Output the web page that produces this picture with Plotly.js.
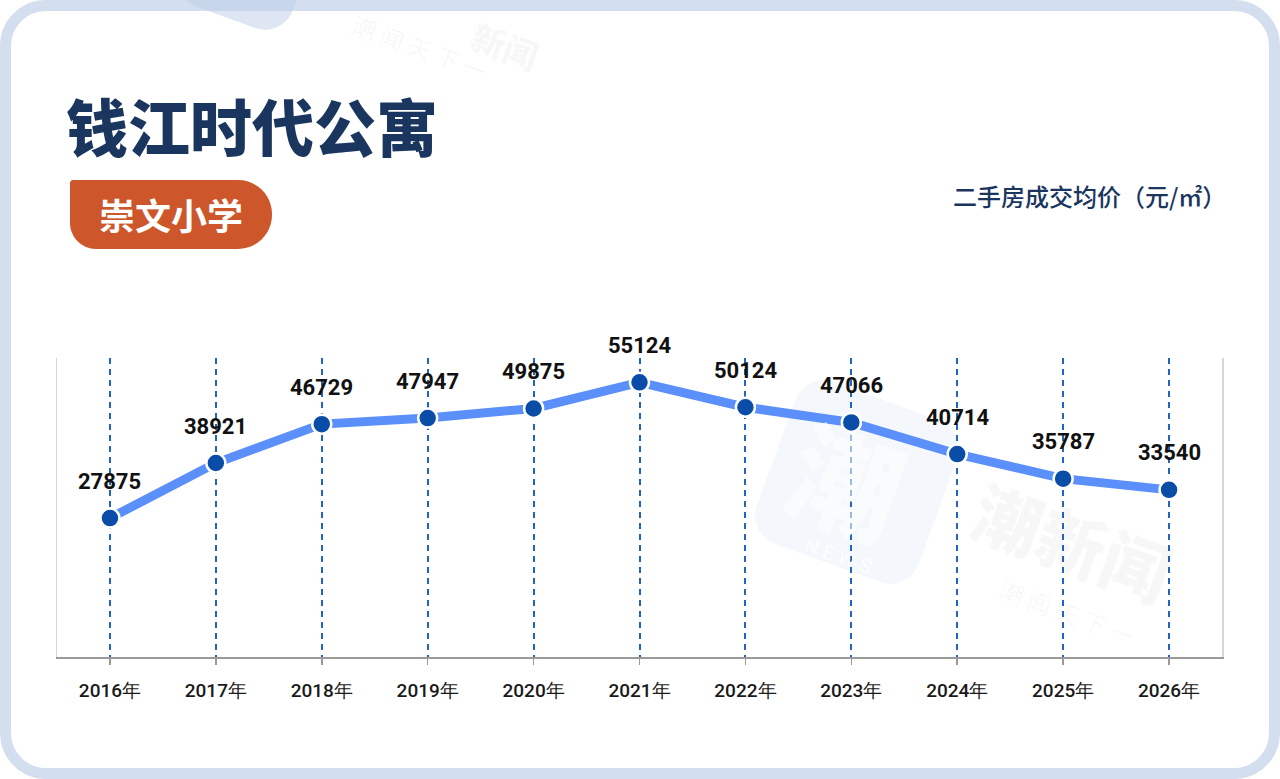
<!DOCTYPE html>
<html>
<head>
<meta charset="utf-8">
<script src="https://cdn.plot.ly/plotly-3.0.1.min.js"></script>
<style>
  html, body { margin: 0; padding: 0; background: #ffffff; }
  #wrap { position: relative; width: 1280px; height: 779px; overflow: hidden; }
  #card { position: absolute; left: 0; top: 0; width: 1280px; height: 779px; box-sizing: border-box;
          border: 11px solid #d3deee; border-radius: 46px; background: #ffffff; }
  #chart { position: absolute; left: 0; top: 0; width: 1280px; height: 779px; }
</style>
</head>
<body>
<div id="wrap">
  <div id="card"></div>
  <div id="chart"></div>
</div>
<script>
// ---- data ----
const years = ['2016年','2017年','2018年','2019年','2020年','2021年','2022年','2023年','2024年','2025年','2026年'];
const prices = [27875, 38921, 46729, 47947, 49875, 55124, 50124, 47066, 40714, 35787, 33540];
const titleText = '钱江时代公寓';
const badgeText = '崇文小学';
const unitText = '二手房成交均价（元/㎡）';

// ---- geometry helpers (pixel -> paper) ----
const W = 1280, H = 779;
const M = { l: 57, r: 58, t: 358, b: 122 };
const PW = W - M.l - M.r, PH = H - M.t - M.b;
function px(x) { return (x - M.l) / PW; }
function py(y) { return (H - M.b - y) / PH; }

function roundedPath(cx, cy, hw, hh, radii, angleDeg) {
  // radii: [tl, tr, br, bl]
  const a = angleDeg * Math.PI / 180, c = Math.cos(a), s = Math.sin(a);
  function T(u, v) {
    const X = cx + u * c - v * s, Y = cy + u * s + v * c;
    return px(X).toFixed(5) + ',' + py(Y).toFixed(5);
  }
  const [tl, tr, br, bl] = radii;
  let d = 'M' + T(-hw + tl, -hh);
  d += ' L' + T(hw - tr, -hh) + ' C' + T(hw - tr * 0.45, -hh) + ' ' + T(hw, -hh + tr * 0.45) + ' ' + T(hw, -hh + tr);
  d += ' L' + T(hw, hh - br) + ' C' + T(hw, hh - br * 0.45) + ' ' + T(hw - br * 0.45, hh) + ' ' + T(hw - br, hh);
  d += ' L' + T(-hw + bl, hh) + ' C' + T(-hw + bl * 0.45, hh) + ' ' + T(-hw, hh - bl * 0.45) + ' ' + T(-hw, hh - bl);
  d += ' L' + T(-hw, -hh + tl) + ' C' + T(-hw, -hh + tl * 0.45) + ' ' + T(-hw + tl * 0.45, -hh) + ' ' + T(-hw + tl, -hh);
  return d + ' Z';
}

const trace = {
  type: 'scatter',
  mode: 'lines+markers',
  x: years,
  y: prices,
  line: { color: '#5b8ff9', width: 9 },
  marker: { color: '#0a4da8', size: 19, line: { color: '#ffffff', width: 2.5 } },
  hoverinfo: 'skip',
  cliponaxis: false
};

const annotations = [];
// watermarks first (drawn underneath other annotations)
annotations.push({
  xref: 'paper', yref: 'paper', x: px(1073), y: py(540), xanchor: 'center', yanchor: 'middle',
  text: '潮新闻', showarrow: false, textangle: 20,
  font: { family: '"Noto Sans CJK SC", sans-serif', size: 68, color: 'rgba(0,0,0,0.032)', weight: 900 }
});
annotations.push({
  xref: 'paper', yref: 'paper', x: px(1068), y: py(612), xanchor: 'center', yanchor: 'middle',
  text: '潮 闻 天 下 一', showarrow: false, textangle: 20,
  font: { family: '"Noto Sans CJK SC", sans-serif', size: 24, color: 'rgba(0,0,0,0.035)', weight: 400 }
});
annotations.push({
  xref: 'paper', yref: 'paper', x: px(420), y: py(48), xanchor: 'center', yanchor: 'middle',
  text: '潮 闻 天 下 一', showarrow: false, textangle: 20,
  font: { family: '"Noto Sans CJK SC", sans-serif', size: 24, color: 'rgba(0,0,0,0.04)', weight: 400 }
});
annotations.push({
  xref: 'paper', yref: 'paper', x: px(505), y: py(46), xanchor: 'center', yanchor: 'middle',
  text: '新闻', showarrow: false, textangle: 20,
  font: { family: '"Noto Sans CJK SC", sans-serif', size: 34, color: 'rgba(0,0,0,0.04)', weight: 900 }
});
annotations.push({
  xref: 'paper', yref: 'paper', x: px(848), y: py(478), xanchor: 'center', yanchor: 'middle',
  text: '潮', showarrow: false, textangle: 20,
  font: { family: '"Noto Sans CJK SC", sans-serif', size: 110, color: 'rgba(255,255,255,0.55)', weight: 900 }
});
annotations.push({
  xref: 'paper', yref: 'paper', x: px(838), y: py(556), xanchor: 'center', yanchor: 'middle',
  text: 'N E W S', showarrow: false, textangle: 20,
  font: { family: 'Roboto, sans-serif', size: 20, color: 'rgba(255,255,255,0.8)', weight: 400 }
});

years.forEach((yr, i) => {
  annotations.push({
    xref: 'x', yref: 'y', x: yr, y: prices[i], yshift: 37,
    text: String(prices[i]), showarrow: false,
    xanchor: 'center', yanchor: 'middle',
    font: { family: 'Roboto, "DejaVu Sans", sans-serif', size: 22, color: '#111111', weight: 700 }
  });
});

// title
annotations.push({
  xref: 'paper', yref: 'paper', x: px(64), y: py(125), xanchor: 'left', yanchor: 'middle',
  text: titleText, showarrow: false,
  font: { family: '"Noto Sans CJK SC", sans-serif', size: 62, color: '#1a365f', weight: 900 }
});
// badge text
annotations.push({
  xref: 'paper', yref: 'paper', x: px(171), y: py(214), xanchor: 'center', yanchor: 'middle',
  text: badgeText, showarrow: false,
  font: { family: '"Noto Sans CJK SC", sans-serif', size: 36, color: '#ffffff', weight: 700 }
});
// unit
annotations.push({
  xref: 'paper', yref: 'paper', x: px(1228), y: py(196), xanchor: 'right', yanchor: 'middle',
  text: unitText, showarrow: false,
  font: { family: '"Noto Sans CJK SC", sans-serif', size: 24, color: '#1a365f', weight: 500 }
});

const shapes = [
  {
    type: 'path', xref: 'paper', yref: 'paper', layer: 'below',
    path: roundedPath(171, 214.5, 101, 34.5, [3, 34, 34, 26], 0),
    fillcolor: '#cd572b', line: { width: 0 }
  },
  {
    type: 'path', xref: 'paper', yref: 'paper', layer: 'below',
    path: roundedPath(857, 482, 86, 86, [30, 30, 30, 30], 20),
    fillcolor: 'rgba(205,218,238,0.22)', line: { width: 0 }
  },
  {
    type: 'path', xref: 'paper', yref: 'paper', layer: 'below',
    path: roundedPath(240, -20, 60, 40, [30, 30, 30, 30], 20),
    fillcolor: 'rgba(190,205,232,0.5)', line: { width: 0 }
  }
];

const layout = {
  width: W, height: H,
  margin: M,
  paper_bgcolor: 'rgba(0,0,0,0)',
  plot_bgcolor: 'rgba(0,0,0,0)',
  showlegend: false,
  xaxis: {
    type: 'category',
    range: [-0.5, years.length - 0.5],
    showline: true, linecolor: '#9a9a9a', linewidth: 2,
    ticks: 'outside', ticklen: 6, tickcolor: '#9a9a9a', tickwidth: 1.5,
    showgrid: true, gridcolor: '#1f66c4', gridwidth: 2, griddash: '6px,5px',
    tickfont: { family: 'Roboto, "DejaVu Sans", sans-serif', size: 19, color: '#1a1a1a', weight: 500 },
    ticklabelstandoff: 9,
    zeroline: false, fixedrange: true
  },
  yaxis: {
    range: [0, 60000],
    showline: true, mirror: true, linecolor: '#d6d6d6', linewidth: 1.5,
    showgrid: false, zeroline: false, showticklabels: false, ticks: '',
    fixedrange: true
  },
  annotations: annotations,
  shapes: shapes
};

Plotly.newPlot('chart', [trace], layout, { displayModeBar: false, staticPlot: true });
</script>
</body>
</html>
